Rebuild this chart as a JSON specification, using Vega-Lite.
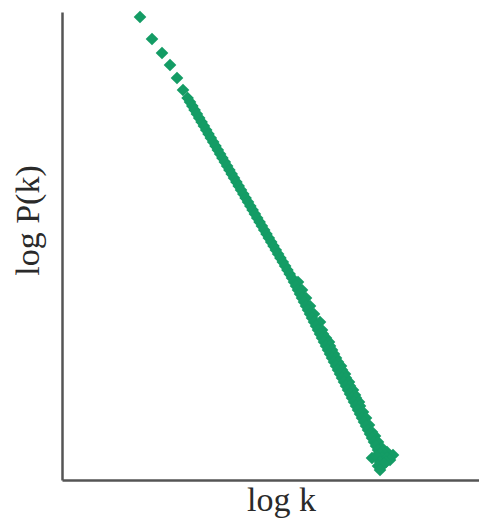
{
  "$schema": "https://vega.github.io/schema/vega-lite/v6.json",
  "width": 417,
  "height": 468,
  "autosize": "none",
  "padding": {"left": 62, "top": 12, "right": 0, "bottom": 52},
  "background": "white",
  "config": {"view": {"stroke": null}},
  "data": {"values": [
    {"logk": 0.78, "logP": 4.63}, {"logk": 0.90, "logP": 4.41}, {"logk": 1.00, "logP": 4.27},
    {"logk": 1.08, "logP": 4.15}, {"logk": 1.15, "logP": 4.02}, {"logk": 1.21, "logP": 3.90},
    {"logk": 1.256, "logP": 3.82}, {"logk": 1.28, "logP": 3.78}, {"logk": 1.303, "logP": 3.74},
    {"logk": 1.326, "logP": 3.70}, {"logk": 1.349, "logP": 3.66}, {"logk": 1.372, "logP": 3.62},
    {"logk": 1.396, "logP": 3.58}, {"logk": 1.419, "logP": 3.54}, {"logk": 1.442, "logP": 3.50},
    {"logk": 1.465, "logP": 3.46}, {"logk": 1.488, "logP": 3.42}, {"logk": 1.512, "logP": 3.38},
    {"logk": 1.535, "logP": 3.34}, {"logk": 1.558, "logP": 3.30}, {"logk": 1.581, "logP": 3.26},
    {"logk": 1.604, "logP": 3.22}, {"logk": 1.628, "logP": 3.18}, {"logk": 1.651, "logP": 3.14},
    {"logk": 1.674, "logP": 3.10}, {"logk": 1.697, "logP": 3.06}, {"logk": 1.72, "logP": 3.02},
    {"logk": 1.744, "logP": 2.98}, {"logk": 1.767, "logP": 2.94}, {"logk": 1.79, "logP": 2.90},
    {"logk": 1.813, "logP": 2.86}, {"logk": 1.836, "logP": 2.82}, {"logk": 1.86, "logP": 2.78},
    {"logk": 1.883, "logP": 2.74}, {"logk": 1.906, "logP": 2.70}, {"logk": 1.929, "logP": 2.66},
    {"logk": 1.952, "logP": 2.62}, {"logk": 1.976, "logP": 2.58}, {"logk": 1.999, "logP": 2.54},
    {"logk": 2.022, "logP": 2.50}, {"logk": 2.045, "logP": 2.46}, {"logk": 2.068, "logP": 2.42},
    {"logk": 2.092, "logP": 2.38}, {"logk": 2.115, "logP": 2.34}, {"logk": 2.138, "logP": 2.30},
    {"logk": 2.161, "logP": 2.26}, {"logk": 2.184, "logP": 2.22}, {"logk": 2.208, "logP": 2.18},
    {"logk": 2.231, "logP": 2.14}, {"logk": 2.254, "logP": 2.10}, {"logk": 2.277, "logP": 2.06},
    {"logk": 2.30, "logP": 2.02},
    {"logk": 2.32, "logP": 1.98}, {"logk": 2.36, "logP": 1.98}, {"logk": 2.34, "logP": 1.94},
    {"logk": 2.36, "logP": 1.90}, {"logk": 2.40, "logP": 1.90}, {"logk": 2.38, "logP": 1.86},
    {"logk": 2.40, "logP": 1.82}, {"logk": 2.44, "logP": 1.82}, {"logk": 2.42, "logP": 1.78},
    {"logk": 2.44, "logP": 1.74}, {"logk": 2.48, "logP": 1.74}, {"logk": 2.46, "logP": 1.70},
    {"logk": 2.48, "logP": 1.66}, {"logk": 2.52, "logP": 1.66}, {"logk": 2.50, "logP": 1.62},
    {"logk": 2.52, "logP": 1.58}, {"logk": 2.58, "logP": 1.58}, {"logk": 2.54, "logP": 1.54},
    {"logk": 2.60, "logP": 1.50}, {"logk": 2.56, "logP": 1.50}, {"logk": 2.61, "logP": 1.46},
    {"logk": 2.58, "logP": 1.46}, {"logk": 2.60, "logP": 1.42}, {"logk": 2.64, "logP": 1.42},
    {"logk": 2.62, "logP": 1.38}, {"logk": 2.67, "logP": 1.38}, {"logk": 2.64, "logP": 1.34},
    {"logk": 2.68, "logP": 1.34},
    {"logk": 2.66, "logP": 1.30}, {"logk": 2.70, "logP": 1.30}, {"logk": 2.68, "logP": 1.26},
    {"logk": 2.72, "logP": 1.26},
    {"logk": 2.70, "logP": 1.22}, {"logk": 2.74, "logP": 1.22}, {"logk": 2.72, "logP": 1.18},
    {"logk": 2.76, "logP": 1.18},
    {"logk": 2.74, "logP": 1.14}, {"logk": 2.79, "logP": 1.14}, {"logk": 2.76, "logP": 1.10},
    {"logk": 2.80, "logP": 1.10},
    {"logk": 2.78, "logP": 1.06}, {"logk": 2.83, "logP": 1.06}, {"logk": 2.80, "logP": 1.02},
    {"logk": 2.84, "logP": 1.02},
    {"logk": 2.82, "logP": 0.98}, {"logk": 2.87, "logP": 0.98}, {"logk": 2.84, "logP": 0.94},
    {"logk": 2.88, "logP": 0.94},
    {"logk": 2.86, "logP": 0.90}, {"logk": 2.91, "logP": 0.90}, {"logk": 2.88, "logP": 0.86},
    {"logk": 2.93, "logP": 0.85}, {"logk": 2.90, "logP": 0.82}, {"logk": 2.94, "logP": 0.82},
    {"logk": 2.92, "logP": 0.78},
    {"logk": 2.97, "logP": 0.78}, {"logk": 2.94, "logP": 0.74}, {"logk": 2.98, "logP": 0.74},
    {"logk": 2.96, "logP": 0.70},
    {"logk": 3.01, "logP": 0.68}, {"logk": 2.98, "logP": 0.66}, {"logk": 3.00, "logP": 0.62},
    {"logk": 3.04, "logP": 0.62}, {"logk": 3.02, "logP": 0.58}, {"logk": 3.07, "logP": 0.55},
    {"logk": 3.04, "logP": 0.54}, {"logk": 3.06, "logP": 0.50}, {"logk": 3.10, "logP": 0.48},
    {"logk": 3.08, "logP": 0.46}, {"logk": 3.13, "logP": 0.44}, {"logk": 3.10, "logP": 0.42},
    {"logk": 3.12, "logP": 0.38}, {"logk": 3.16, "logP": 0.38}, {"logk": 3.14, "logP": 0.34},
    {"logk": 3.20, "logP": 0.32}, {"logk": 3.16, "logP": 0.30}, {"logk": 3.25, "logP": 0.28},
    {"logk": 3.20, "logP": 0.28},
    {"logk": 3.18, "logP": 0.26}, {"logk": 3.31, "logP": 0.25}, {"logk": 3.20, "logP": 0.22},
    {"logk": 3.25, "logP": 0.22},
    {"logk": 3.10, "logP": 0.22}, {"logk": 3.14, "logP": 0.24}, {"logk": 3.28, "logP": 0.20},
    {"logk": 3.18, "logP": 0.18}, {"logk": 3.24, "logP": 0.18},
    {"logk": 3.16, "logP": 0.14}, {"logk": 3.22, "logP": 0.16}, {"logk": 3.18, "logP": 0.10}
  ]},
  "mark": {"type": "point", "shape": "diamond", "filled": true, "size": 160, "color": "#149c65", "opacity": 1},
  "encoding": {
    "x": {
      "field": "logk", "type": "quantitative",
      "scale": {"domain": [0, 4.17], "nice": false, "zero": false},
      "axis": {
        "title": "log k", "ticks": false, "labels": false, "grid": false,
        "domainColor": "#555555", "domainWidth": 2.5,
        "titleFont": "Liberation Serif", "titleFontSize": 34, "titleFontWeight": "normal",
        "titleColor": "#2a2a2a", "titleX": 219, "titleY": 30, "titleBaseline": "alphabetic", "titleAlign": "center"
      }
    },
    "y": {
      "field": "logP", "type": "quantitative",
      "scale": {"domain": [0, 4.68], "nice": false, "zero": false},
      "axis": {
        "title": "log P(k)", "ticks": false, "labels": false, "grid": false,
        "domainColor": "#555555", "domainWidth": 2.5,
        "titleFont": "Liberation Serif", "titleFontSize": 34, "titleFontWeight": "normal",
        "titleColor": "#2a2a2a", "titleAngle": -90, "titleX": -24, "titleY": 208,
        "titleBaseline": "alphabetic", "titleAlign": "center"
      }
    }
  }
}
